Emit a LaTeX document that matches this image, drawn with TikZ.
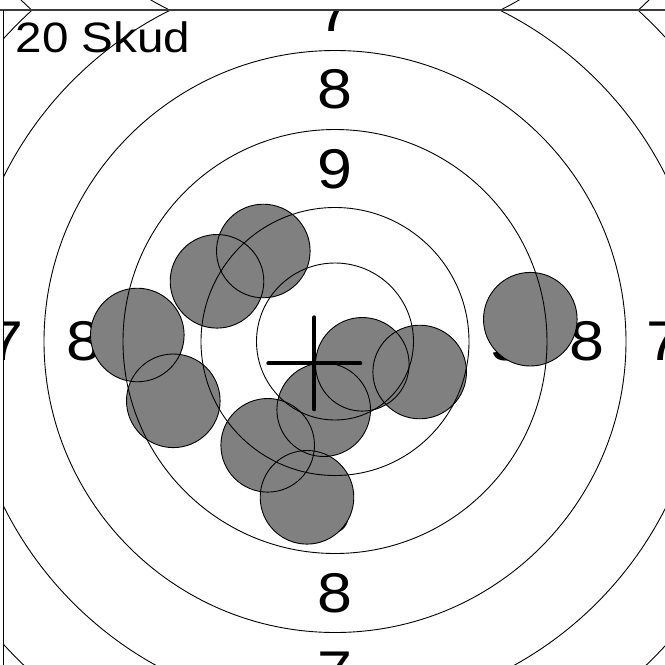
\documentclass[tikz,border=0pt]{standalone}
\usepackage{fontspec}
\setmainfont{Liberation Sans}[FakeStretch=1.12]
\definecolor{shotgray}{HTML}{808080}
\definecolor{framegray}{HTML}{3C3C3C}

\begin{document}
\begin{tikzpicture} [x=1pt,y=-1pt,
  ring/.style={line width=0.9pt},
  shot/.style={fill=shotgray},
  hole/.style={line width=0.9pt},
  num/.style={inner sep=0pt,font=\fontsize{56}{56}\selectfont}]

%\draw [step=50, dotted] (0,0) grid (665,665);
\useasboundingbox (0,0) rectangle (665,665);

\coordinate (ctr) at (335,341.5);
\coordinate (mpi) at (314.3,363.3);

\begin{scope}
\clip (3.3,10) rectangle (665,665);

\node [num] (top9) at (335,169.5) {9};
\node [num] (bot9) at (335,513.5) {9};
\node [num] (lft9) at (163,341.5) {9};
\node [num] (rgt9) at (507,341.5) {9};
\node [num] (top8) at (335,89.5) {8};
\node [num] (bot8) at (335,593.5) {8};
\node [num] (lft8) at (83.5,341.5) {8};
\node [num] (rgt8) at (586.5,341.5) {8};
\node [num] (top7) at (335,12) {7};
\node [num] (bot7) at (335,671) {7};
\node [num] (lft7) at (6,341.5) {7};
\node [num] (rgt7) at (663.5,341.5) {7};

\fill [shot] (263.3,251) circle (46.8);
\fill [shot] (217,281.3) circle (46.8);
\fill [shot] (137.3,335) circle (46.8);
\fill [shot] (173.3,400.8) circle (46.8);
\fill [shot] (267.7,445.3) circle (46.8);
\fill [shot] (307,497.3) circle (46.8);
\fill [shot] (323.7,409.7) circle (46.8);
\fill [shot] (362.3,364.3) circle (46.8);
\fill [shot] (419.7,372) circle (46.8);
\fill [shot] (530.3,319.2) circle (46.8);

\draw [hole] (263.3,251) circle (46.8);
\draw [hole] (217,281.3) circle (46.8);
\draw [hole] (137.3,335) circle (46.8);
\draw [hole] (173.3,400.8) circle (46.8);
\draw [hole] (267.7,445.3) circle (46.8);
\draw [hole] (307,497.3) circle (46.8);
\draw [hole] (323.7,409.7) circle (46.8);
\draw [hole] (362.3,364.3) circle (46.8);
\draw [hole] (419.7,372) circle (46.8);
\draw [hole] (530.3,319.2) circle (46.8);

\draw [ring] (ctr) circle (78.5);
\draw [ring] (ctr) circle (134);
\draw [ring] (ctr) circle (212);
\draw [ring] (ctr) circle (291);
\draw [ring] (ctr) circle (370);
\draw [ring] (ctr) circle (449);
\end{scope}

% card above
\begin{scope}
\clip (0,0) rectangle (665,10);
\draw [ring] (335,-321) circle (370);
\draw [ring] (335,-321) circle (449);
\end{scope}

\draw [line width=4pt, line cap=round] (mpi) +(-46,0) -- +(46,0);
\draw [line width=4pt, line cap=round] (mpi) +(0,-46) -- +(0,46);

\draw [framegray, line width=2pt] (0,10) -- (665,10);
\draw [line width=1.5pt] (3.3,10) -- (3.3,665);

\node [anchor=base west, inner sep=0pt, font=\fontsize{42.5}{42.5}\selectfont] (title) at (15.5,52.3) {20 Skud};

\end{tikzpicture}
\end{document}
